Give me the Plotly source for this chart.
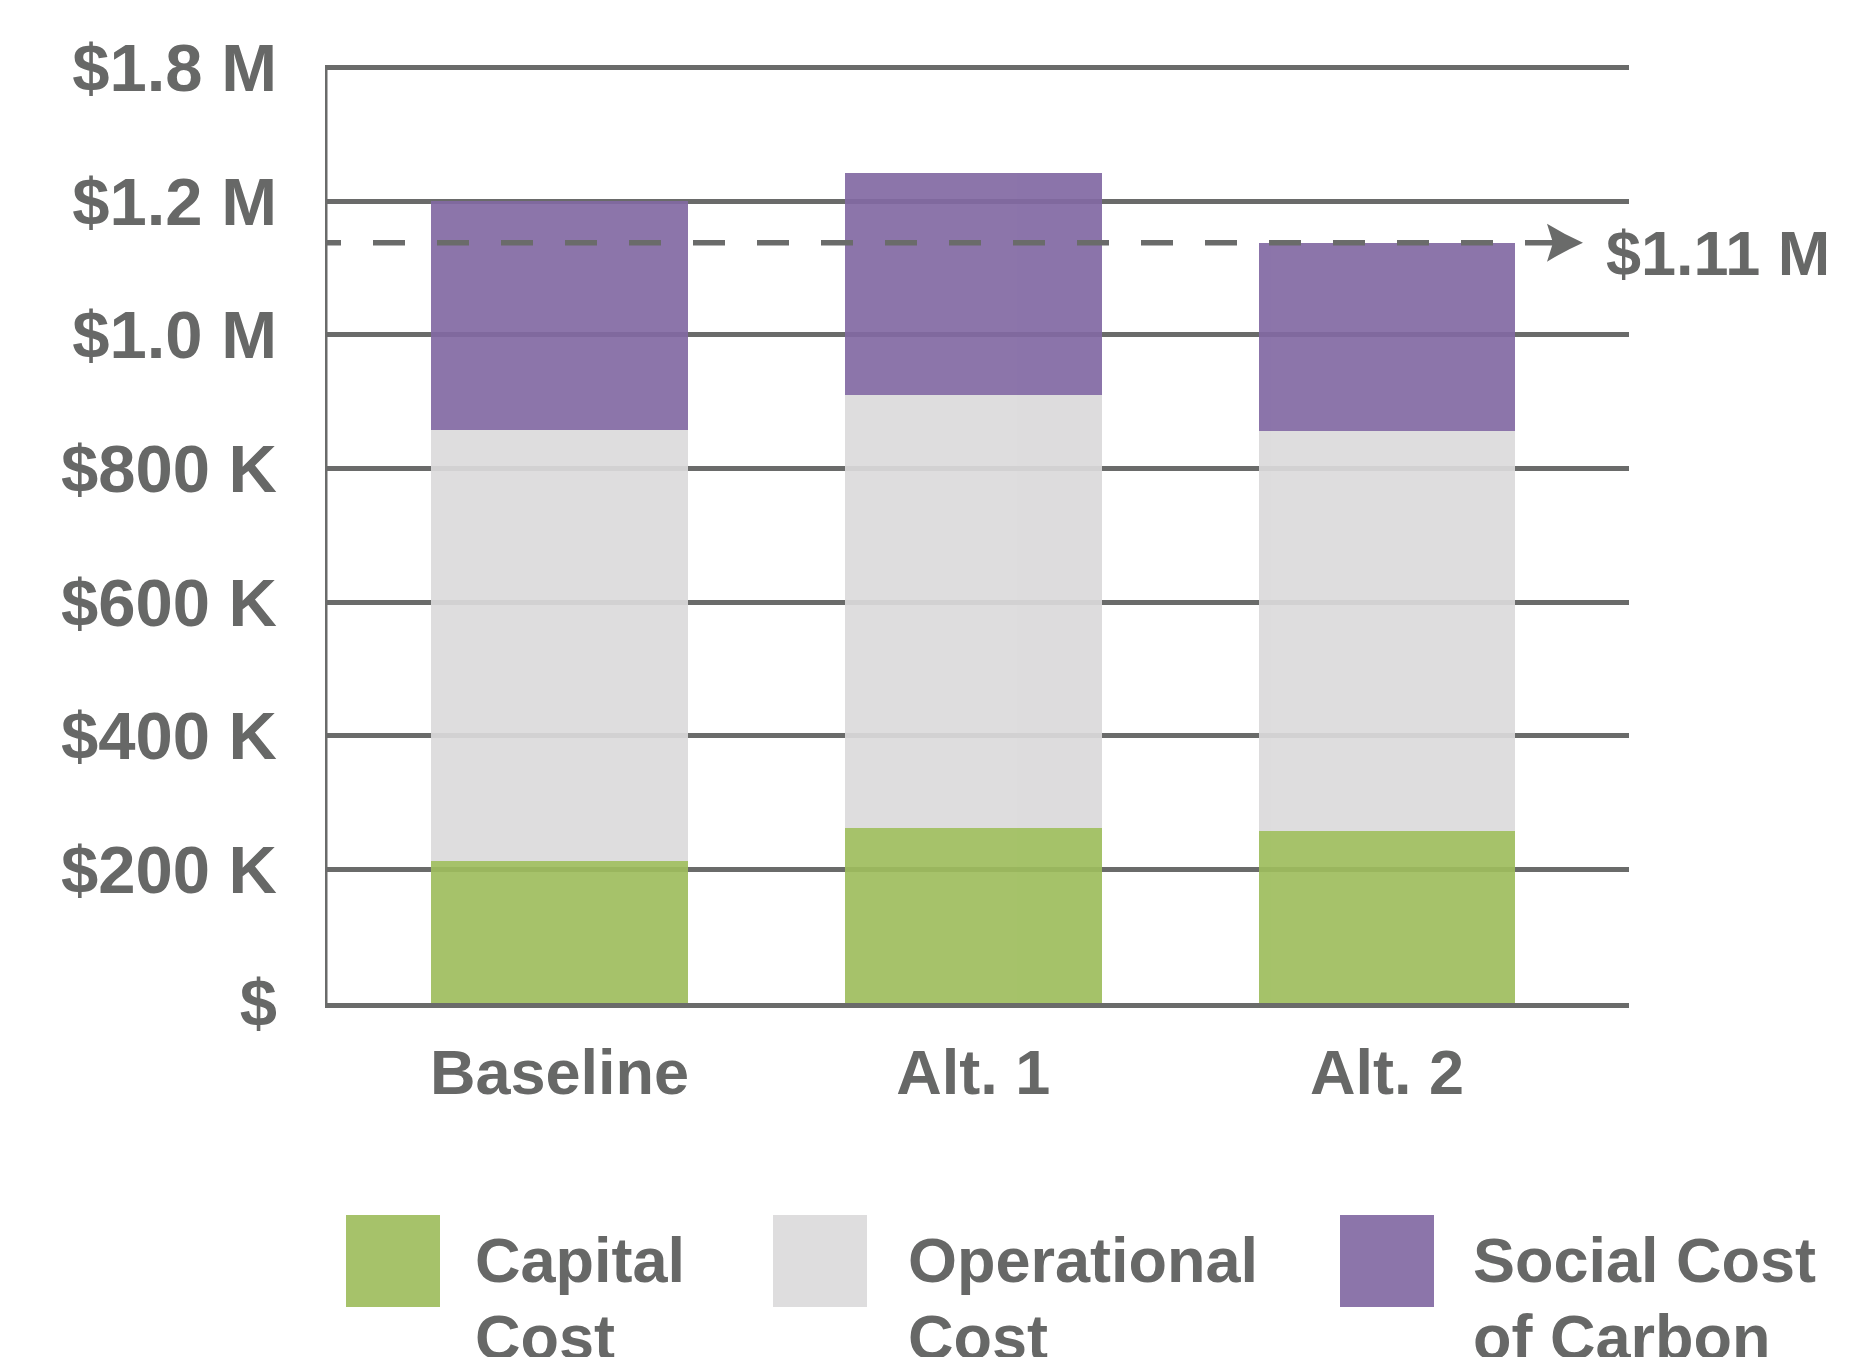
import plotly.graph_objects as go

# ---- data ----
categories = ["Baseline", "Alt. 1", "Alt. 2"]
capital_cost = [212_000, 262_000, 257_000]
operational_cost = [646_000, 648_000, 599_000]
social_cost_carbon = [342_000, 332_000, 282_000]

tick_values = [0, 200_000, 400_000, 600_000, 800_000, 1_000_000, 1_200_000, 1_400_000]
tick_labels = ["$", "$200 K", "$400 K", "$600 K", "$800 K", "$1.0 M", "$1.2 M", "$1.8 M"]

marker_label = "$1.11 M"
series_names = [["Capital", "Cost"], ["Operational", "Cost"], ["Social Cost", "of Carbon"]]

# ---- style ----
W, H = 1860, 1357
L, R = 325, 1629
TOP_GRID, B = 68, 1003
YMAX_TICK = 1_400_000
YMAX = 1_410_000
PX_PER_UNIT = (B - TOP_GRID) / YMAX_TICK
T = B - YMAX * PX_PER_UNIT
FONT = "Liberation Sans"
TXT = "#676867"
GRID = "#6a6b6a"
FS = 63
display_colors = ["#A6C26A", "#DEDDDE", "#8C75AA"]
bar_colors = ["#9EBD5D", "#DBDADB", "#8269A3"]
OPAC = 0.92
XR = [-0.567, 2.585]

def px_x(X):
    return (X - L) / (R - L)

def px_y(Y):
    return (B - Y) / (B - T)

def data_x(X):
    return XR[0] + (X - L) / (R - L) * (XR[1] - XR[0])

fig = go.Figure()
for vals, col in zip([capital_cost, operational_cost, social_cost_carbon], bar_colors):
    fig.add_trace(go.Bar(x=[0, 1, 2], y=vals, marker=dict(color=col, line=dict(width=0)),
                         opacity=OPAC, width=0.62, showlegend=False))

alt2_total = capital_cost[2] + operational_cost[2] + social_cost_carbon[2]

# dashed reference line (drawn right-to-left so the dash phase matches)
fig.add_shape(type="line", xref="x", yref="y", x0=data_x(1557), x1=XR[0],
              y0=alt2_total, y1=alt2_total, line=dict(color=GRID, width=5.5, dash="32px,32px"),
              layer="above")
# stealth arrowhead at the end of the dashed line
fig.add_shape(type="path", xref="x", yref="y", xsizemode="pixel", ysizemode="pixel",
              xanchor=data_x(1583), yanchor=alt2_total,
              path="M0,0 Q-18,8 -36,19 L-30,0 L-36,-19 Q-18,-8 0,0 Z",
              fillcolor=GRID, line=dict(width=0), layer="above")
fig.add_annotation(x=data_x(1604), y=alt2_total, xref="x", yref="y", text=marker_label,
                   showarrow=False, xanchor="left", yanchor="middle", yshift=-10,
                   font=dict(family=FONT, size=FS, color=TXT, weight=700))

# legend (manual)
sq_x = [346, 773, 1340]
tx_x = [473, 906, 1471]
for i in range(3):
    fig.add_shape(type="rect", xref="paper", yref="paper",
                  x0=px_x(sq_x[i]), x1=px_x(sq_x[i] + 94),
                  y0=px_y(1307), y1=px_y(1215),
                  fillcolor=display_colors[i], line=dict(width=0))
    for j, Y in enumerate([1260, 1337]):
        fig.add_annotation(x=px_x(tx_x[i]), y=px_y(Y), xref="paper", yref="paper",
                           text=series_names[i][j], showarrow=False,
                           xanchor="left", yanchor="middle",
                           font=dict(family=FONT, size=FS, color=TXT, weight=700))

fig.update_layout(
    width=W, height=H, barmode="stack", bargap=0,
    margin=dict(l=L, r=W - R, t=T, b=H - B, pad=0),
    paper_bgcolor="white", plot_bgcolor="white",
    font=dict(family=FONT, color=TXT),
)
fig.update_xaxes(range=XR, tickvals=[0, 1, 2], ticktext=categories, showgrid=False,
                 zeroline=False, showline=True, linecolor=GRID, linewidth=5,
                 ticks="", ticklabelstandoff=10,
                 tickfont=dict(family=FONT, size=FS, color=TXT, weight=700))
fig.update_yaxes(range=[0, YMAX], tickvals=tick_values, ticktext=tick_labels,
                 showgrid=True, gridcolor=GRID, gridwidth=5, zeroline=False,
                 showline=False, ticks="",
                 ticklabelstandoff=47,
                 tickfont=dict(family=FONT, size=67, color=TXT, weight=700))
# left axis line only up to the top gridline
fig.add_shape(type="line", xref="x", yref="y", x0=XR[0], x1=XR[0], y0=0, y1=YMAX_TICK,
              line=dict(color=GRID, width=5), layer="above")

fig.write_html("out.html")
